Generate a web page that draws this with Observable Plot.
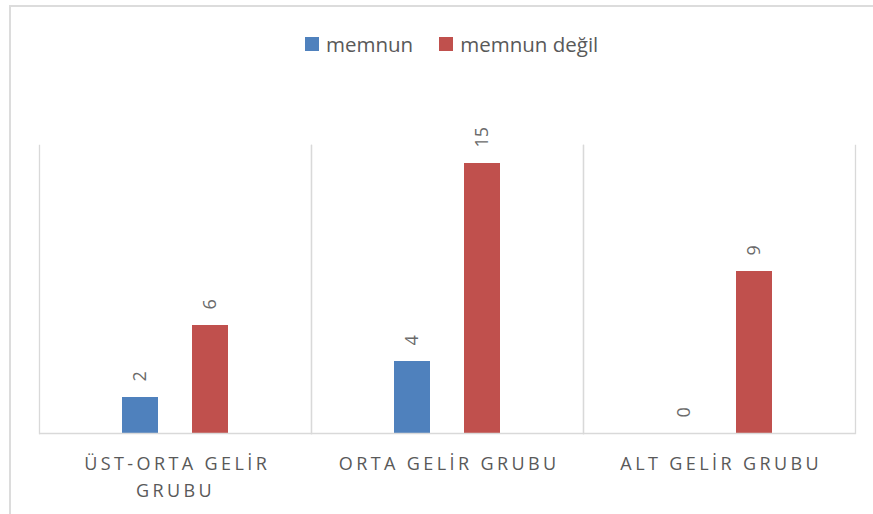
<!DOCTYPE html>
<html>
<head>
<meta charset="utf-8">
<script src="https://cdn.jsdelivr.net/npm/d3@7"></script>
<script src="https://cdn.jsdelivr.net/npm/@observablehq/plot@0.6"></script>
<style>
  html, body { margin: 0; padding: 0; background: #fff; }
  body { width: 873px; height: 514px; position: relative; overflow: hidden; font-family: "Open Sans", sans-serif; }
  #border { position: absolute; left: 9px; top: 5px; right: -10px; bottom: -10px; border-left: 2px solid #dcdcdc; border-top: 2px solid #dcdcdc; pointer-events: none; }
  #chart { position: absolute; left: 0; top: 0; }
  #legend { position: absolute; top: 30px; left: 305px; display: flex; align-items: center; font-size: 20.5px; color: #595959; white-space: nowrap; }
  #legend .item { display: flex; align-items: center; margin-right: 26px; }
  #legend .sw { width: 14px; height: 14px; margin-right: 7px; display: inline-block; }
</style>
</head>
<body>
<div id="border"></div>
<div id="chart"></div>
<div id="legend"></div>
<script>
const categories = ["ÜST-ORTA GELİR GRUBU", "ORTA GELİR GRUBU", "ALT GELİR GRUBU"];
const series = ["memnun", "memnun değil"];
const memnun = [2, 4, 0];
const memnunDegil = [6, 15, 9];
const colors = ["#4F81BD", "#C0504D"];

const data = [];
categories.forEach((c, i) => {
  data.push({group: c, series: series[0], value: memnun[i]});
  data.push({group: c, series: series[1], value: memnunDegil[i]});
});

const plot = Plot.plot({
  width: 873,
  height: 514,
  marginLeft: 38,
  marginRight: 18,
  marginTop: 145,
  marginBottom: 81,
  style: {fontFamily: "Open Sans, sans-serif", background: "transparent"},
  fx: {domain: categories, padding: 0, label: null},
  x: {domain: series, paddingInner: 0.479, paddingOuter: 1.155, axis: null},
  y: {domain: [0, 16], axis: null},
  color: {domain: series, range: colors},
  marks: [
    Plot.frame({anchor: "left", stroke: "#d9d9d9", strokeWidth: 1.3}),
    Plot.frame({anchor: "right", stroke: "#d9d9d9", strokeWidth: 1.3}),
    Plot.barY(data, {fx: "group", x: "series", y: "value", fill: "series"}),
    Plot.ruleY([0], {stroke: "#d9d9d9", strokeWidth: 1.5}),
    Plot.text(data, {fx: "group", x: "series", y: "value", text: d => String(d.value),
      rotate: -90, textAnchor: "start", dy: -16, fill: "#6a6a6a", fontSize: 18}),
    Plot.axisFx({anchor: "bottom", tickSize: 0, tickPadding: 17, lineWidth: 10.5, lineHeight: 1.5,
      fontSize: 18, fill: "#595959", label: null})
  ]
});
document.getElementById("chart").appendChild(plot);

d3.select(plot).selectAll('g[aria-label="fx-axis tick label"] text')
  .style("letter-spacing", "3.4px")
  .attr("dx", "1.7");

const legend = d3.select("#legend");
series.forEach((s, i) => {
  const it = legend.append("div").attr("class", "item");
  it.append("span").attr("class", "sw").style("background", colors[i]);
  it.append("span").text(s);
});
</script>
</body>
</html>
